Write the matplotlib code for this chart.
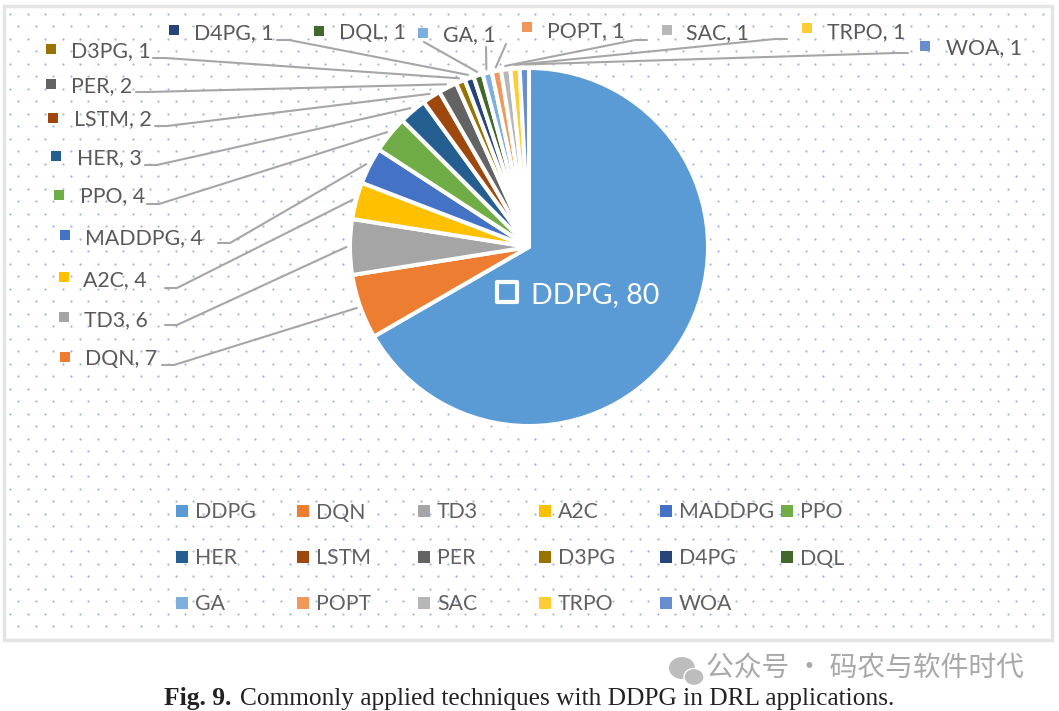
import numpy as np
import matplotlib
matplotlib.use('Agg')
import matplotlib.pyplot as plt
from matplotlib.patches import Rectangle, Ellipse

W, H = 1059, 711

techniques = ['DDPG', 'DQN', 'TD3', 'A2C', 'MADDPG', 'PPO', 'HER', 'LSTM', 'PER',
              'D3PG', 'D4PG', 'DQL', 'GA', 'POPT', 'SAC', 'TRPO', 'WOA']
counts = [80, 7, 6, 4, 4, 4, 3, 2, 2, 1, 1, 1, 1, 1, 1, 1, 1]
colors = ['#5B9BD5', '#ED7D31', '#A5A5A5', '#FFC000', '#4472C4', '#70AD47',
          '#255E91', '#9E480E', '#636363', '#997300', '#264478', '#43682B',
          '#7CAFDD', '#F1975A', '#B7B7B7', '#FFCD33', '#698ED0']

# layout of the outside labels, in image pixels (text y is the baseline)
marker_xy = [None, (65, 357), (64, 317), (64, 277), (65, 235), (59, 195), (56, 156),
             (53, 118), (51, 84), (51, 49), (174, 30), (319, 31), (423, 33),
             (527, 27), (667, 30), (807, 28), (925, 46)]
text_xy = [None, (85, 365), (84, 326), (83, 286), (85, 244), (80, 202), (77, 164),
           (74, 125), (71, 92), (71, 57), (194, 39), (339, 39), (443, 41),
           (547, 37), (686, 39), (827, 38), (946, 54)]
leader_start = [None, (162, 365), (165, 325), (165, 288), (218, 243), (147, 204), (145, 165),
                (155, 126), (136, 92), (153, 58), (277, 40), (424, 42), (486, 47),
                (506, 44), (647, 40), (787, 39), (908, 53)]

cx, cy, radius = 529, 247, 179
pad = 1.1

fig = plt.figure(figsize=(W / 100, H / 100), dpi=100)
plt.rcParams['font.family'] = ['Lato', 'DejaVu Sans']

bg = fig.add_axes([0, 0, 1, 1], zorder=0)
bg.set_xlim(0, W)
bg.set_ylim(H, 0)
bg.axis('off')

# chart frame and dotted pattern fill
bg.add_patch(Rectangle((4, 6), 1048, 634, fc='white', ec='#e2e4e6', lw=2.5))
for off_x, off_y in [(10, 14), (18, 26)]:
    xs, ys = np.meshgrid(np.arange(off_x, 1050, 17.5), np.arange(off_y, 636, 25))
    bg.scatter(xs.ravel(), ys.ravel(), s=2.6, color='#a4b8d6', linewidths=0)

# pie
size = 2 * radius * pad
ax = fig.add_axes([(cx - size / 2) / W, 1 - (cy + size / 2) / H, size / W, size / H], zorder=1)
ax.pie(counts, colors=colors, startangle=90, counterclock=False, radius=1, frame=True,
       wedgeprops={'edgecolor': 'white', 'linewidth': 2.9})
ax.set_xlim(-pad, pad)
ax.set_ylim(-pad, pad)
ax.axis('off')

# leader lines end at the middle of each slice
before = np.cumsum([0] + counts[:-1])
for i in range(1, len(counts)):
    angle = np.radians((before[i] + counts[i] / 2) / sum(counts) * 360)
    x_end = cx + np.sin(angle) * radius * 1.02
    y_end = cy - np.cos(angle) * radius * 1.02
    x0, y0 = leader_start[i]
    if i <= 10 or i >= 14:
        step = 12 if x0 < x_end else -12
    else:
        step = 0
    bg.plot([x0, x0 + step, x_end], [y0, y0, y_end], color='#a6a6a6', lw=1.5,
            solid_capstyle='round')
    bg.scatter(*marker_xy[i], marker='s', s=42, color=colors[i], linewidths=0)
    bg.text(*text_xy[i], f'{techniques[i]}, {counts[i]}', fontsize=15.3, color='#595959',
            va='baseline', ha='left')

# label sitting on the big slice
ax.scatter(507, 292, marker='s', s=190, facecolor='none', edgecolor='white', linewidths=3,
           transform=bg.transData)
ax.text(531, 303, f'{techniques[0]}, {counts[0]}', fontsize=20.5, color='white', va='baseline',
        ha='left', transform=bg.transData)

# legend, three rows of six
for i, name in enumerate(techniques):
    row, col = divmod(i, 6)
    lx = 182 + 121 * col
    ly = 511 + 46 * row
    bg.scatter(lx, ly, marker='s', s=65, color=colors[i], linewidths=0)
    bg.text(lx + 13, ly + 7.5, name, fontsize=15.3, color='#606060', va='baseline', ha='left')

# watermark
bg.add_patch(Ellipse((682, 668), 26, 22, fc='#bdbdbd', ec='none'))
bg.add_patch(Ellipse((694, 677), 20, 17, fc='#bdbdbd', ec='white', lw=1))
bg.text(706, 668, '公众号 · 码农与软件时代', fontsize=20, color='#a8a8a8', va='center', ha='left',
        family=['Noto Sans CJK SC', 'DejaVu Sans'])

# caption
bg.text(164, 699, 'Fig. 9.', fontsize=18.4, fontweight='bold', color='#222222', va='center',
        ha='left', family='Liberation Serif')
bg.text(240, 699, 'Commonly applied techniques with DDPG in DRL applications.', fontsize=18.3,
        color='#222222', va='center', ha='left', family='Liberation Serif')

fig.savefig('out.png', dpi=100, facecolor='white')
